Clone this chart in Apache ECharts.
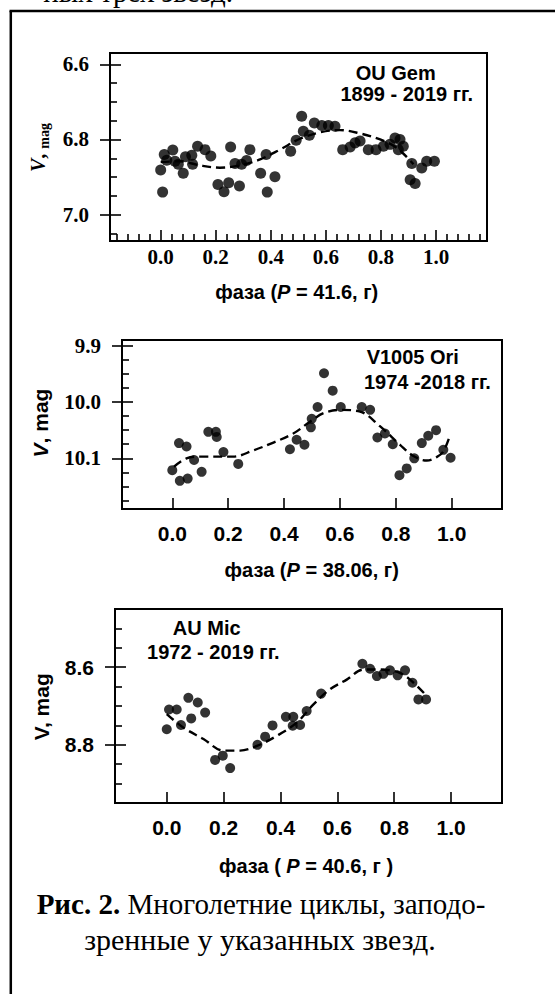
<!DOCTYPE html>
<html>
<head>
<meta charset="utf-8">
<script src="https://cdn.jsdelivr.net/npm/echarts@6.0.0/dist/echarts.min.js"></script>
<style>
html,body{margin:0;padding:0;background:#fff;}
#c{width:555px;height:994px;}
</style>
</head>
<body>
<div id="c"></div>
<script>
// ---------- data (phase, V magnitude) ----------
const ouGemPoints = [
  [0.000,6.881],[0.007,6.940],[0.013,6.840],[0.022,6.855],[0.044,6.828],[0.052,6.858],
  [0.064,6.866],[0.082,6.890],[0.090,6.846],[0.113,6.842],[0.116,6.866],[0.134,6.818],
  [0.161,6.827],[0.182,6.844],[0.208,6.920],[0.230,6.939],[0.247,6.915],[0.254,6.820],
  [0.270,6.864],[0.286,6.924],[0.294,6.866],[0.312,6.856],[0.324,6.827],[0.363,6.890],
  [0.383,6.840],[0.387,6.940],[0.415,6.899],[0.472,6.831],[0.492,6.802],[0.512,6.738],
  [0.518,6.778],[0.540,6.789],[0.558,6.756],[0.585,6.763],[0.609,6.763],[0.633,6.765],
  [0.661,6.827],[0.688,6.820],[0.706,6.809],[0.724,6.804],[0.754,6.827],[0.782,6.827],
  [0.809,6.818],[0.833,6.813],[0.851,6.796],[0.863,6.827],[0.869,6.800],[0.881,6.818],
  [0.906,6.907],[0.912,6.864],[0.924,6.917],[0.948,6.876],[0.966,6.858],[0.994,6.858]
];
const ouGemFit = [
  [0.000,6.860],[0.070,6.858],[0.143,6.869],[0.215,6.875],[0.288,6.869],[0.361,6.853],
  [0.433,6.827],[0.506,6.798],[0.579,6.781],[0.651,6.775],[0.724,6.784],[0.797,6.800],
  [0.857,6.822],[0.918,6.866]
];
const v1005Points = [
  [0.000,10.121],[0.024,10.073],[0.027,10.140],[0.051,10.079],[0.055,10.136],[0.078,10.103],
  [0.105,10.124],[0.129,10.053],[0.156,10.053],[0.159,10.062],[0.183,10.089],[0.236,10.110],
  [0.421,10.084],[0.445,10.067],[0.473,10.076],[0.496,10.045],[0.499,10.030],[0.520,10.009],
  [0.543,9.949],[0.574,9.980],[0.603,10.009],[0.678,10.009],[0.708,10.014],[0.734,10.063],
  [0.761,10.056],[0.789,10.075],[0.813,10.130],[0.839,10.118],[0.866,10.100],[0.893,10.073],
  [0.916,10.060],[0.944,10.050],[0.970,10.085],[0.996,10.099]
];
const v1005Fit = [
  [0.006,10.115],[0.051,10.100],[0.099,10.097],[0.218,10.097],[0.290,10.086],[0.362,10.072],
  [0.433,10.056],[0.493,10.035],[0.541,10.020],[0.600,10.014],[0.672,10.017],[0.743,10.043],
  [0.815,10.076],[0.863,10.096],[0.911,10.104],[0.946,10.098],[0.970,10.088],[0.994,10.059]
];
const auMicPoints = [
  [0.000,8.760],[0.008,8.709],[0.035,8.709],[0.050,8.749],[0.076,8.679],[0.086,8.732],
  [0.109,8.691],[0.135,8.717],[0.170,8.839],[0.197,8.828],[0.223,8.860],[0.319,8.800],
  [0.346,8.779],[0.372,8.750],[0.419,8.728],[0.445,8.728],[0.443,8.751],[0.469,8.749],
  [0.492,8.713],[0.543,8.668],[0.688,8.591],[0.715,8.604],[0.739,8.623],[0.762,8.617],
  [0.785,8.608],[0.812,8.621],[0.838,8.608],[0.864,8.640],[0.885,8.683],[0.912,8.683]
];
const auMicFit = [
  [0.000,8.721],[0.059,8.756],[0.129,8.785],[0.199,8.815],[0.258,8.815],[0.317,8.803],
  [0.387,8.777],[0.457,8.743],[0.516,8.696],[0.574,8.657],[0.633,8.632],[0.692,8.606],
  [0.750,8.606],[0.821,8.615],[0.868,8.640],[0.909,8.670]
];

// ---------- tick values / labels ----------
const phaseTicks = [0, 0.2, 0.4, 0.6, 0.8, 1.0];
const ouGemPhaseMinor = [-0.16,-0.12,-0.08,-0.04,0.04,0.08,0.12,0.16,0.24,0.28,0.32,0.36,
  0.44,0.48,0.52,0.56,0.64,0.68,0.72,0.76,0.84,0.88,0.92,0.96,1.04,1.08,1.12,1.16];
const ouGemVTicks = [6.6, 6.8, 7.0];
const ouGemVMinor = [6.65, 6.7, 6.75, 6.85, 6.9, 6.95, 7.05];
const v1005VTicks = [9.9, 10.0, 10.1];
const v1005VMinor = [9.925, 9.95, 9.975, 10.025, 10.05, 10.075, 10.125, 10.15, 10.175];
const auMicVTicks = [8.6, 8.8];
const auMicVMinor = [8.5, 8.55, 8.65, 8.7, 8.75, 8.85, 8.9];

const SERIF = 'Liberation Serif';
const SANS = 'Liberation Sans';

const chart = echarts.init(document.getElementById('c'), null, {renderer: 'svg'});

const grids = [
  {left:110, top:53, width:377, height:188},
  {left:122, top:340, width:380, height:169},
  {left:115, top:609, width:387, height:194}
].map(g => Object.assign(g, {show:true, borderColor:'#000', borderWidth:2, backgroundColor:'transparent'}));

const panels = [
  {x:[-0.184,1.185], y:[6.57,7.07], xMinor:ouGemPhaseMinor, yMajor:ouGemVTicks, yMinor:ouGemVMinor,
   yFont:SERIF, xFont:SERIF, xMargin:5},
  {x:[-0.180,1.180], y:[9.89,10.19], xMinor:null, yMajor:v1005VTicks, yMinor:v1005VMinor,
   yFont:SERIF, xFont:SANS, xMargin:14},
  {x:[-0.182,1.179], y:[8.45,8.95], xMinor:null, yMajor:auMicVTicks, yMinor:auMicVMinor,
   yFont:SANS, xFont:SANS, xMargin:14}
];

const xAxes = [], yAxes = [], xMainIdx = [], yMainIdx = [];
const tickStyle = {color:'#000', width:1.6};
const noLine = {show:false, onZero:false};
function labelStyle(values, font, margin) {
  return {show:true, customValues:values, margin:margin,
    formatter: v => '{t|' + v.toFixed(1) + '}',
    fontFamily:font, fontWeight:'bold', fontSize:21, color:'#000',
    rich:{t:{fontFamily:font, fontWeight:'bold', fontSize:21, color:'#000'}}};
}
panels.forEach((p, gi) => {
  xMainIdx.push(xAxes.length);
  xAxes.push({type:'value', gridIndex:gi, position:'bottom', min:p.x[0], max:p.x[1],
    axisLine:noLine, splitLine:{show:false},
    axisTick:{show:true, inside:true, length:11, customValues:phaseTicks, lineStyle:tickStyle},
    axisLabel:labelStyle(phaseTicks, p.xFont, p.xMargin)});
  if (p.xMinor) {
    xAxes.push({type:'value', gridIndex:gi, position:'bottom', min:p.x[0], max:p.x[1],
      axisLine:noLine, splitLine:{show:false}, axisLabel:{show:false},
      axisTick:{show:true, inside:true, length:7, customValues:p.xMinor, lineStyle:tickStyle}});
  }
  yMainIdx.push(yAxes.length);
  yAxes.push({type:'value', gridIndex:gi, position:'left', inverse:true, min:p.y[0], max:p.y[1],
    axisLine:noLine, splitLine:{show:false},
    axisTick:{show:true, inside:false, length:10, customValues:p.yMajor, lineStyle:tickStyle},
    axisLabel:labelStyle(p.yMajor, p.yFont, 21)});
  yAxes.push({type:'value', gridIndex:gi, position:'left', inverse:true, min:p.y[0], max:p.y[1],
    axisLine:noLine, splitLine:{show:false}, axisLabel:{show:false},
    axisTick:{show:true, inside:true, length:11, customValues:p.yMajor, lineStyle:tickStyle}});
  yAxes.push({type:'value', gridIndex:gi, position:'left', inverse:true, min:p.y[0], max:p.y[1],
    axisLine:noLine, splitLine:{show:false}, axisLabel:{show:false},
    axisTick:{show:true, inside:true, length:7, customValues:p.yMinor, lineStyle:tickStyle}});
});

const pointSets = [ouGemPoints, v1005Points, auMicPoints];
const fitSets = [ouGemFit, v1005Fit, auMicFit];
const symSizes = [11, 10, 10];
const series = [];
panels.forEach((p, gi) => {
  series.push({type:'line', xAxisIndex:xMainIdx[gi], yAxisIndex:yMainIdx[gi], data:fitSets[gi],
    smooth:0.35, showSymbol:false, silent:true, z:2,
    lineStyle:{color:'#000', width:2.4, type:[9,5]}});
  series.push({type:'scatter', xAxisIndex:xMainIdx[gi], yAxisIndex:yMainIdx[gi], data:pointSets[gi],
    symbol:'circle', symbolSize:symSizes[gi], itemStyle:{color:'#000'}, silent:true, z:3});
});

function txt(x, y, text, font, extra) {
  return {type:'text', silent:true, style:Object.assign({x:x, y:y, text:text,
    fill:'#000', align:'center', verticalAlign:'middle', font:font}, extra || {})};
}
function richTxt(x, y, text, rich, rotation) {
  return {type:'text', silent:true, x:x, y:y, rotation:rotation || 0,
    style:{x:0, y:0, text:text, rich:rich, fill:'#000', align:'center', verticalAlign:'middle'}};
}
const sansB = (s) => ({fontFamily:SANS, fontWeight:'bold', fontSize:s, fill:'#000'});
const sansBI = (s) => ({fontFamily:SANS, fontWeight:'bold', fontStyle:'italic', fontSize:s, fill:'#000'});
const serifB = (s) => ({fontFamily:SERIF, fontWeight:'bold', fontSize:s, fill:'#000'});
const serifBI = (s) => ({fontFamily:SERIF, fontWeight:'bold', fontStyle:'italic', fontSize:s, fill:'#000'});
const serifR = (s) => ({fontFamily:SERIF, fontSize:s, fill:'#000'});

const graphics = [
  // outer frame
  {type:'line', silent:true, shape:{x1:9.5, y1:11, x2:555, y2:11}, style:{stroke:'#000', lineWidth:2.5}},
  {type:'line', silent:true, shape:{x1:10.8, y1:11, x2:10.8, y2:994}, style:{stroke:'#000', lineWidth:2.5}},
  // clipped text from previous paragraph
  txt(233, -8, 'ных трех звезд.', '29px "Liberation Serif"', {align:'right'}),
  // panel 1 labels
  txt(395.7, 72.7, 'OU Gem', 'bold 20px "Liberation Sans"'),
  txt(406.7, 94, '1899 - 2019 гг.', 'bold 20px "Liberation Sans"'),
  richTxt(296.7, 291.7, '{a|фаза (}{b|P}{a| = 41.6, г)}', {a:sansB(20), b:sansBI(20)}),
  richTxt(38.3, 147.5, '{v|V}{a|, }{s|mag}', {
    v:Object.assign(serifBI(20), {lineHeight:26}), a:Object.assign(serifB(20), {lineHeight:26}),
    s:Object.assign(serifB(14), {lineHeight:14, verticalAlign:'bottom'})}, Math.PI/2),
  // panel 2 labels
  txt(412.8, 357.3, 'V1005 Ori', 'bold 20px "Liberation Sans"'),
  txt(427.4, 381.7, '1974 -2018 гг.', 'bold 20px "Liberation Sans"'),
  richTxt(311.7, 570, '{a|фаза (}{b|P}{a| = 38.06, г)}', {a:sansB(20), b:sansBI(20)}),
  richTxt(40, 423, '{v|V}{a|, mag}', {v:sansBI(21), a:sansB(21)}, Math.PI/2),
  // panel 3 labels
  txt(206.7, 627.7, 'AU Mic', 'bold 20px "Liberation Sans"'),
  txt(213.3, 651.7, '1972 - 2019 гг.', 'bold 20px "Liberation Sans"'),
  richTxt(306, 866, '{a|фаза ( }{b|P}{a| = 40.6, г )}', {a:sansB(20), b:sansBI(20)}),
  richTxt(41.7, 706.7, '{a|V, mag}', {a:sansB(21)}, Math.PI/2),
  // caption
  richTxt(261, 904, '{b|Рис. 2.}{a| Многолетние циклы, заподо-}', {b:serifB(29), a:serifR(29)}),
  richTxt(260, 939, '{a|зренные у указанных звезд.}', {a:serifR(30)})
];

chart.setOption({
  animation:false,
  backgroundColor:'#fff',
  grid:grids,
  xAxis:xAxes,
  yAxis:yAxes,
  series:series,
  graphic:{elements:graphics}
});
</script>
</body>
</html>
